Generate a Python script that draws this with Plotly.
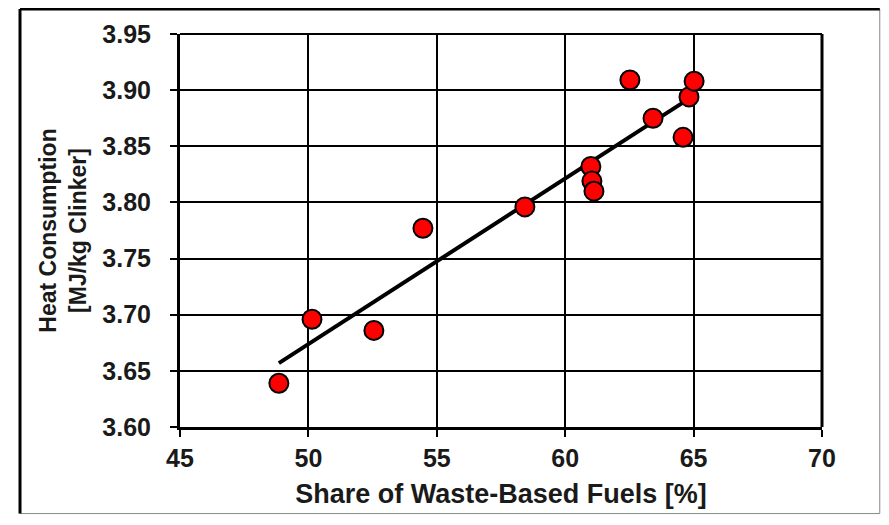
import numpy as np
import plotly.graph_objects as go

waste_share = [48.85, 50.14, 52.55, 54.46, 58.43, 61.0, 61.04, 61.12, 62.52, 63.42, 64.59, 64.82, 65.02]
heat_cons = [3.639, 3.696, 3.686, 3.777, 3.796, 3.832, 3.819, 3.810, 3.909, 3.875, 3.858, 3.894, 3.908]

x_ticks = [45, 50, 55, 60, 65, 70]
y_ticks = [3.60, 3.65, 3.70, 3.75, 3.80, 3.85, 3.90, 3.95]

slope, intercept = np.polyfit(waste_share, heat_cons, 1)
fit_x = np.array([min(waste_share), max(waste_share)])
fit_y = slope * fit_x + intercept

fam = "Liberation Sans, Arial, sans-serif"
txt_col = "#1a1a1a"

fig = go.Figure()
fig.add_trace(go.Scatter(x=fit_x, y=fit_y, mode="lines",
                         line=dict(color="black", width=4), showlegend=False))
fig.add_trace(go.Scatter(x=waste_share, y=heat_cons, mode="markers",
                         marker=dict(color="#ff0000", size=19,
                                     line=dict(color="black", width=2)),
                         showlegend=False))

axis_common = dict(showgrid=True, gridcolor="black", gridwidth=2,
                   showline=True, linecolor="black", linewidth=3, mirror=False,
                   ticks="outside", ticklen=7, tickwidth=2, tickcolor="black",
                   zeroline=False)

fig.update_xaxes(range=[45, 70], tickvals=x_ticks, ticktext=[str(v) for v in x_ticks],
                 tickfont=dict(family=fam, size=25, color=txt_col, weight="bold"),
                 ticklabelstandoff=0,
                 title=dict(text="<b>Share of Waste-Based Fuels [%]</b>",
                            font=dict(family=fam, size=27, color=txt_col), standoff=14),
                 **axis_common)
fig.update_yaxes(range=[3.60, 3.95], tickvals=y_ticks, ticktext=[f"{v:.2f}" for v in y_ticks],
                 tickfont=dict(family=fam, size=25, color=txt_col, weight="bold"),
                 ticklabelstandoff=14,
                 title=dict(text="<b>Heat Consumption<br>[MJ/kg Clinker]</b>",
                            font=dict(family=fam, size=23, color=txt_col), standoff=10),
                 **axis_common)

fig.update_layout(
    width=877, height=509,
    margin=dict(l=172, r=63, t=26, b=88),
    plot_bgcolor="white", paper_bgcolor="white",
    shapes=[
        dict(type="rect", xref="paper", yref="paper",
             x0=-0.2492, x1=1.09, y0=-0.2203, y1=1.0633,
             line=dict(color="#888888", width=1)),
        dict(type="line", xref="paper", yref="paper",
             x0=-0.2492, x1=1.09, y0=1.0633, y1=1.0633,
             line=dict(color="black", width=3)),
        dict(type="line", xref="paper", yref="paper",
             x0=-0.2492, x1=-0.2492, y0=-0.2203, y1=1.0633,
             line=dict(color="black", width=3)),
        dict(type="line", xref="paper", yref="paper",
             x0=1, x1=1, y0=0, y1=1,
             line=dict(color="black", width=3)),
        dict(type="line", xref="paper", yref="paper",
             x0=0, x1=1, y0=1, y1=1,
             line=dict(color="black", width=2)),
    ],
)

fig.write_html("out.html")
